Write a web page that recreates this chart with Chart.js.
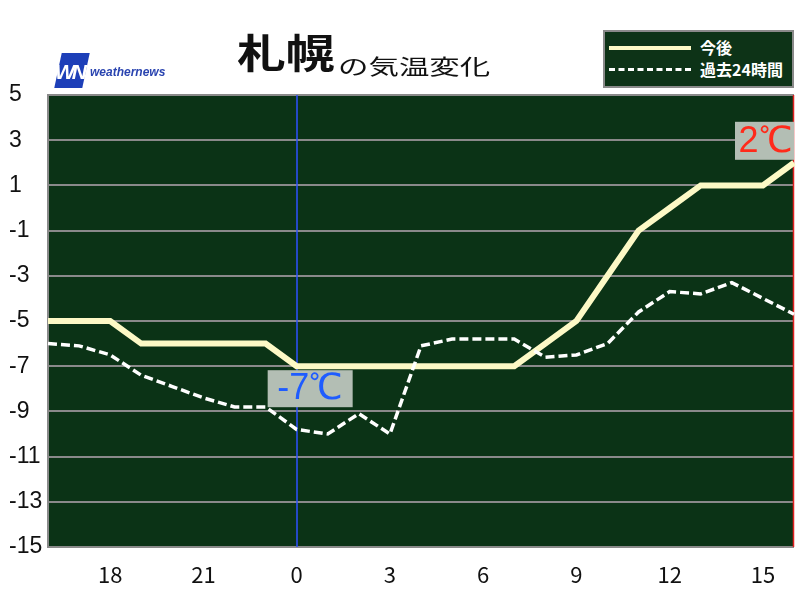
<!DOCTYPE html>
<html lang="ja">
<head>
<meta charset="UTF-8">
<title>札幌の気温変化</title>
<script src="https://cdn.jsdelivr.net/npm/chart.js"></script>
<style>
  body { margin: 0; background: #fff; }
  #wrap { position: relative; width: 800px; height: 600px; overflow: hidden; }
  #chart { position: absolute; left: 0; top: 0; }
  .abs { position: absolute; white-space: nowrap; }
  #title1 { left: 237px; top: 22px; font: bold 40px "Noto Sans CJK JP"; color: #111; transform: scaleX(1.22); transform-origin: left top; }
  #title2 { left: 338px; top: 50px; font: 21px "Noto Sans CJK JP"; color: #111; transform: scaleX(1.45); transform-origin: left top; }
  #logoBox { left: 58px; top: 53px; width: 28px; height: 35px; background: #1d3fb8; transform: skewX(-12deg); }
  #logoWN { left: 55px; top: 60px; font: italic bold 21px "Liberation Sans"; color: #fff; letter-spacing: -3px; }
  #logoTxt { left: 90px; top: 65px; font: italic bold 12px "Liberation Sans"; color: #2a44b0; }
  #legend { left: 603px; top: 30px; width: 187px; height: 54px; background: #0d3317; border: 2px solid #8a8a8a; }
  .lgLine { position: absolute; left: 4px; width: 82px; }
  .lgTxt { position: absolute; left: 95px; font: bold 16px "Noto Sans CJK JP"; color: #fff; }
</style>
</head>
<body>
<div id="wrap">
  <canvas id="chart" width="800" height="600"></canvas>
  <div class="abs" id="title1">札幌</div>
  <div class="abs" id="title2">の気温変化</div>
  <div class="abs" id="logoBox"></div>
  <div class="abs" id="logoWN">WN</div>
  <div class="abs" id="logoTxt">weathernews</div>
  <div class="abs" id="legend">
    <div class="lgLine" style="top:14px;height:4px;background:#fdf9c6;"></div>
    <div class="lgTxt" style="top:3px;">今後</div>
    <div class="lgLine" style="top:36px;border-top:3px dashed #fff;"></div>
    <div class="lgTxt" style="top:25px;">過去24時間</div>
  </div>
</div>
<script>
// hours from 16:00 to 16:00 next day
const hours = [16, 17, 18, 19, 20, 21, 22, 23, 0, 1, 2, 3, 4, 5, 6, 7, 8, 9, 10, 11, 12, 13, 14, 15, 16];
const xTickLabels = ['', '', '18', '', '', '21', '', '', '0', '', '', '3', '', '', '6', '', '', '9', '', '', '12', '', '', '15', ''];
const yTicks = [5, 3, 1, -1, -3, -5, -7, -9, -11, -13, -15];

// 今後 (forecast)
const forecast = [-5, -5, -5, -6, -6, -6, -6, -6, -7, -7, -7, -7, -7, -7, -7, -7, -6, -5, -3, -1, 0, 1, 1, 1, 2];
// 過去24時間 (last 24 hours)
const past24 = [-6.0, -6.1, -6.5, -7.4, -7.9, -8.4, -8.8, -8.8, -9.8, -10.0, -9.1, -10.0, -6.1, -5.8, -5.8, -5.8, -6.6, -6.5, -6.0, -4.6, -3.7, -3.8, -3.3, -4.0, -4.7];

// labels shown on the chart
const minLabel = { index: 8, text: '-7℃' };
const maxLabel = { index: 24, text: '2℃' };

const plotBg = {
    id: 'plotBg',
    beforeDraw(chart) {
        const { ctx, chartArea: a } = chart;
        ctx.save();
        ctx.fillStyle = '#0b3316';
        ctx.fillRect(a.left, a.top, a.right - a.left, a.bottom - a.top);
        ctx.restore();
    },
    beforeDatasetsDraw(chart) {
        const { ctx, chartArea: a, scales } = chart;
        const x0 = Math.round(scales.x.getPixelForValue(hours.indexOf(0)));
        ctx.save();
        ctx.strokeStyle = '#2f52ff';
        ctx.lineWidth = 1.5;
        ctx.beginPath();
        ctx.moveTo(x0, a.top);
        ctx.lineTo(x0, a.bottom);
        ctx.stroke();
        ctx.strokeStyle = '#e02020';
        ctx.beginPath();
        ctx.moveTo(a.right - 0.5, a.top);
        ctx.lineTo(a.right - 0.5, a.bottom);
        ctx.stroke();
        ctx.restore();
    }
};

const tempLabels = {
    id: 'tempLabels',
    afterDatasetsDraw(chart) {
        const { ctx, chartArea: a, scales } = chart;
        ctx.save();
        ctx.font = '36px "Liberation Sans"';
        ctx.textBaseline = 'middle';
        ctx.textAlign = 'center';

        // min label, under the point
        let px = scales.x.getPixelForValue(minLabel.index);
        let py = scales.y.getPixelForValue(forecast[minLabel.index]);
        ctx.fillStyle = '#b3beb4';
        ctx.fillRect(px - 29, py + 4, 85, 37);
        ctx.fillStyle = '#1e5cff';
        ctx.fillText(minLabel.text, px + 13, py + 23);

        // max label, above the last point
        px = scales.x.getPixelForValue(maxLabel.index);
        py = scales.y.getPixelForValue(forecast[maxLabel.index]);
        ctx.fillStyle = '#b3beb4';
        ctx.fillRect(a.right - 59, py - 41, 59, 38);
        ctx.fillStyle = '#ff2a1a';
        ctx.fillText(maxLabel.text, a.right - 29, py - 21);
        ctx.restore();
    }
};

new Chart(document.getElementById('chart'), {
    type: 'line',
    data: {
        labels: hours,
        datasets: [
            {
                label: '過去24時間',
                data: past24,
                borderColor: '#ffffff',
                borderWidth: 3.5,
                borderDash: [9, 4],
                pointRadius: 0,
                tension: 0,
                order: 0
            },
            {
                label: '今後',
                data: forecast,
                borderColor: '#fdf9c6',
                borderWidth: 6,
                pointRadius: 0,
                tension: 0,
                order: 1
            }
        ]
    },
    options: {
        responsive: false,
        animation: false,
        devicePixelRatio: 1,
        layout: { padding: { top: 95, right: 3, left: 9, bottom: 0 } },
        plugins: { legend: { display: false }, tooltip: { enabled: false } },
        scales: {
            x: {
                offset: false,
                afterFit: s => { s.height = 53; },
                grid: { display: false },
                border: { display: false },
                ticks: {
                    autoSkip: false,
                    maxRotation: 0,
                    padding: 6,
                    color: '#111',
                    font: { family: 'Noto Sans CJK JP', size: 22 },
                    callback: (v, i) => xTickLabels[i]
                }
            },
            y: {
                min: -15,
                max: 5,
                afterFit: s => { s.width = 39; },
                afterBuildTicks: s => { s.ticks = yTicks.map(v => ({ value: v })); },
                grid: { color: '#8a8a8a', lineWidth: 2, drawTicks: false },
                border: { display: true, color: '#8a8a8a', width: 2 },
                ticks: {
                    crossAlign: 'far',
                    padding: 4,
                    color: '#111',
                    font: { family: 'Liberation Sans', size: 23 }
                }
            }
        }
    },
    plugins: [plotBg, tempLabels]
});
</script>
</body>
</html>
